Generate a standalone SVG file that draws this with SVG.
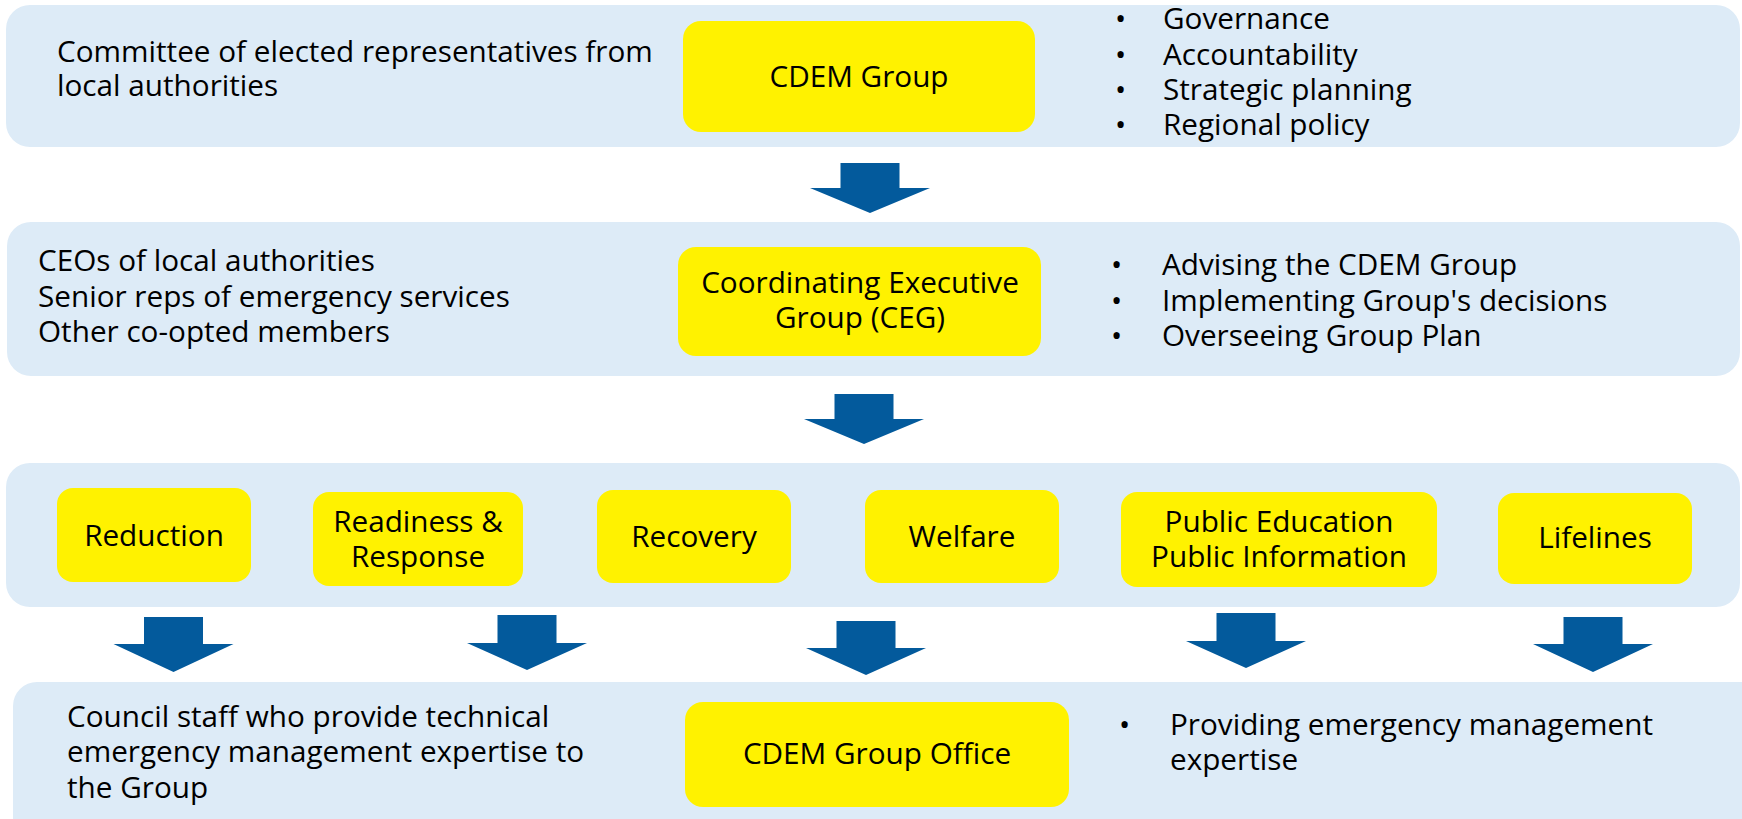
<svg xmlns="http://www.w3.org/2000/svg" width="1742" height="819" viewBox="0 0 1742 819">
<style>
.panel{fill:#DDEBF7;}
.box{fill:#FFF200;}
.t{font-family:"Open Sans","Noto Sans","Liberation Sans",sans-serif;font-size:29.7px;fill:#000;}
.c{text-anchor:middle;}
.arrow{fill:#035A9C;}
</style>
<rect width="1742" height="819" fill="#FFFFFF"/>
<g id="panel1">
<rect class="panel" x="6" y="5" width="1734" height="142" rx="24"/>
<text class="t" x="57" y="62">Committee of elected representatives from<tspan x="57" y="96">local authorities</tspan></text>
<text class="t"><tspan x="1115" y="29">•</tspan><tspan x="1163" y="29">Governance</tspan><tspan x="1115" y="65">•</tspan><tspan x="1163" y="65">Accountability</tspan><tspan x="1115" y="100">•</tspan><tspan x="1163" y="100">Strategic planning</tspan><tspan x="1115" y="135">•</tspan><tspan x="1163" y="135">Regional policy</tspan></text>
</g>
<g id="cdem-group">
<rect class="box" x="683" y="21" width="352" height="111" rx="18"/>
<text class="t c" x="859" y="87">CDEM Group</text>
</g>
<g id="panel2">
<rect class="panel" x="7" y="222" width="1733" height="154" rx="24"/>
<text class="t" x="38" y="271">CEOs of local authorities<tspan x="38" y="307">Senior reps of emergency services</tspan><tspan x="38" y="342">Other co-opted members</tspan></text>
<text class="t"><tspan x="1111" y="275">•</tspan><tspan x="1162" y="275">Advising the CDEM Group</tspan><tspan x="1111" y="311">•</tspan><tspan x="1162" y="311">Implementing Group's decisions</tspan><tspan x="1111" y="346">•</tspan><tspan x="1162" y="346">Overseeing Group Plan</tspan></text>
</g>
<g id="ceg">
<rect class="box" x="678" y="247" width="363" height="109" rx="18"/>
<text class="t c" x="860" y="293">Coordinating Executive<tspan x="860" y="328">Group (CEG)</tspan></text>
</g>
<g id="panel3">
<rect class="panel" x="6" y="463" width="1734" height="144" rx="24"/>
</g>
<g id="reduction">
<rect class="box" x="57" y="488" width="194" height="94" rx="16"/>
<text class="t c" x="154" y="546">Reduction</text>
</g>
<g id="readiness">
<rect class="box" x="313" y="492" width="210" height="94" rx="16"/>
<text class="t c" x="418" y="532">Readiness &amp;<tspan x="418" y="567">Response</tspan></text>
</g>
<g id="recovery">
<rect class="box" x="597" y="490" width="194" height="93" rx="16"/>
<text class="t c" x="694" y="547">Recovery</text>
</g>
<g id="welfare">
<rect class="box" x="865" y="490" width="194" height="93" rx="16"/>
<text class="t c" x="962" y="547">Welfare</text>
</g>
<g id="public">
<rect class="box" x="1121" y="492" width="316" height="95" rx="16"/>
<text class="t c" x="1279" y="532">Public Education<tspan x="1279" y="567">Public Information</tspan></text>
</g>
<g id="lifelines">
<rect class="box" x="1498" y="493" width="194" height="91" rx="16"/>
<text class="t c" x="1595" y="548">Lifelines</text>
</g>
<g id="panel4">
<rect class="panel" x="13" y="682" width="1760" height="170" rx="24"/>
<text class="t" x="67" y="727">Council staff who provide technical<tspan x="67" y="762">emergency management expertise to</tspan><tspan x="67" y="798">the Group</tspan></text>
<text class="t"><tspan x="1119" y="735">•</tspan><tspan x="1170" y="735">Providing emergency management</tspan><tspan x="1170" y="770">expertise</tspan></text>
</g>
<g id="cdem-group-office">
<rect class="box" x="685" y="702" width="384" height="105" rx="18"/>
<text class="t c" x="877" y="764">CDEM Group Office</text>
</g>
<g id="connectors">
<polygon class="arrow" points="840.5,163 899.5,163 899.5,188 930,188 870,213 810,188 840.5,188"/>
<polygon class="arrow" points="834.5,394 893.5,394 893.5,419 924,419 864,444 804,419 834.5,419"/>
<polygon class="arrow" points="144,617 203,617 203,644 233.5,644 173.5,672 113.5,644 144,644"/>
<polygon class="arrow" points="497.5,615 556.5,615 556.5,643 587,643 527,670 467,643 497.5,643"/>
<polygon class="arrow" points="836.5,621 895.5,621 895.5,648 926,648 866,675 806,648 836.5,648"/>
<polygon class="arrow" points="1216.5,613 1275.5,613 1275.5,641 1306,641 1246,668 1186,641 1216.5,641"/>
<polygon class="arrow" points="1563.5,617 1622.5,617 1622.5,644 1653,644 1593,672 1533,644 1563.5,644"/>
</g>
</svg>
